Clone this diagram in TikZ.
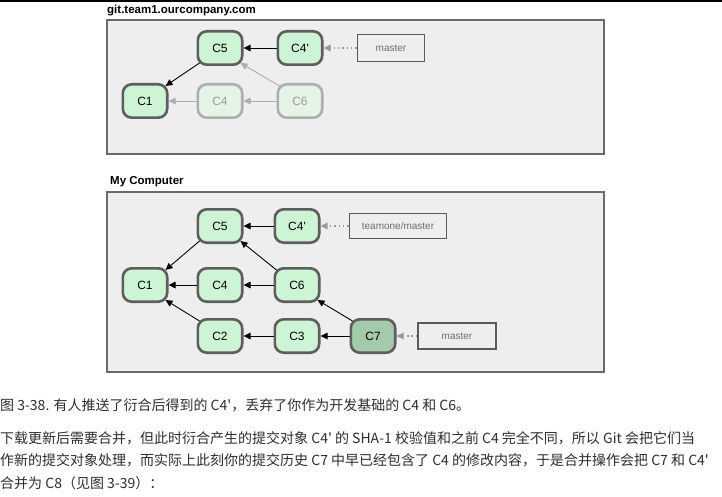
\documentclass[tikz,border=0pt]{standalone}
\usepackage{fontspec}
\setmainfont{Liberation Sans}
\newfontfamily\cjk{Noto Sans CJK SC}
\newfontfamily\lsans{Liberation Sans}
\usetikzlibrary{arrows.meta}
\definecolor{cfill}{HTML}{CDF5D5}
\definecolor{cborder}{HTML}{5E5E5E}
\definecolor{ffill}{HTML}{E5F4E6}
\definecolor{fborder}{HTML}{AEAEAE}
\definecolor{ftext}{HTML}{9C9C9C}
\definecolor{c7fill}{HTML}{A5C9AB}
\definecolor{panelbg}{HTML}{EEEEEE}
\definecolor{panelborder}{HTML}{6A6A6A}
\definecolor{refborder}{HTML}{5A5A5A}
\definecolor{reftext}{HTML}{6E6E6E}
\definecolor{dotcol}{HTML}{9A9A9A}
\definecolor{bodytext}{HTML}{2E2E2E}
\tikzset{
  commit/.style={draw=cborder, line width=2.6pt, fill=cfill, rounded corners=9pt,
    minimum width=44.4pt, minimum height=33.4pt, inner sep=0pt,
    font=\lsans\fontsize{12}{14}\selectfont, text=black},
  faded/.style={commit, draw=fborder, fill=ffill, text=ftext},
  tipcommit/.style={commit, fill=c7fill},
  refbox/.style={draw=refborder, line width=1.8pt, fill=panelbg, inner sep=0pt,
    font=\lsans\fontsize{10}{12}\selectfont, text=reftext},
  panel/.style={draw=panelborder, line width=1.4pt, fill=panelbg},
  title/.style={font=\lsans\bfseries\fontsize{11.5}{13}\selectfont, anchor=base west, inner sep=0pt},
  arr/.style={-{Triangle[length=7pt,width=6.5pt]}, line width=0.9pt, draw=black},
  farr/.style={arr, draw=fborder},
  dots/.style={-{Triangle[length=7pt,width=6.5pt]}, line width=1.1pt, draw=dotcol,
    dash pattern=on 1.5pt off 2.8pt},
  body/.style={font=\cjk\fontsize{14}{16}\selectfont, text=bodytext, anchor=base west, inner sep=0pt}
}
\begin{document}
\begin{tikzpicture}[x=1pt,y=-1pt]
\useasboundingbox (0,0) rectangle (722,497);
\fill[white] (0,0) rectangle (722,497);
\fill[black] (0,0) rectangle (722,1.6);

% ---------- top panel ----------
\node[title] (t1) at (107,13.5) {git.team1.ourcompany.com};
\path[panel] (107,20) rectangle (604,154);
\node[commit] (aC5) at (220,48) {C5};
\node[commit] (aC4p) at (300,48) {C4'};
\node[commit] (aC1) at (145,101) {C1};
\node[faded] (aC4) at (220,101) {C4};
\node[faded] (aC6) at (300,101) {C6};
\node[refbox, minimum width=67pt, minimum height=27pt] (amaster) at (391,48) {master};
\draw[arr] (aC4p) -- (aC5);
\draw[arr] ([xshift=3pt,yshift=3pt]aC5.south west) -- ([xshift=-3pt,yshift=-3pt]aC1.north east);
\draw[farr] ([xshift=3pt,yshift=-3pt]aC6.north west) -- ([xshift=-3pt,yshift=3pt]aC5.south east);
\draw[farr] (aC6) -- (aC4);
\draw[farr] (aC4) -- (aC1);
\draw[dots] (amaster) -- (aC4p);

% ---------- bottom panel ----------
\node[title] (t2) at (110,184.5) {My Computer};
\path[panel] (107,192) rectangle (604,372);
\node[commit] (bC5) at (220,226) {C5};
\node[commit] (bC4p) at (297,226) {C4'};
\node[commit] (bC1) at (145,285) {C1};
\node[commit] (bC4) at (220,285) {C4};
\node[commit] (bC6) at (297,285) {C6};
\node[commit] (bC2) at (220,336) {C2};
\node[commit] (bC3) at (297,336) {C3};
\node[tipcommit] (bC7) at (373,336) {C7};
\node[refbox, minimum width=97pt, minimum height=25pt] (btm) at (398,226) {teamone/master};
\node[refbox, minimum width=78pt, minimum height=26pt] (bmaster) at (457,336) {master};
\draw[arr] (bC4p) -- (bC5);
\draw[arr] ([xshift=3pt,yshift=3pt]bC5.south west) -- ([xshift=-3pt,yshift=-3pt]bC1.north east);
\draw[arr] (bC4) -- (bC1);
\draw[arr] (bC6) -- (bC4);
\draw[arr] ([xshift=3pt,yshift=-3pt]bC6.north west) -- ([xshift=-3pt,yshift=3pt]bC5.south east);
\draw[arr] ([xshift=3pt,yshift=-3pt]bC2.north west) -- ([xshift=-3pt,yshift=3pt]bC1.south east);
\draw[arr] (bC3) -- (bC2);
\draw[arr] (bC7) -- (bC3);
\draw[arr] ([xshift=3pt,yshift=-3pt]bC7.north west) -- ([xshift=-3pt,yshift=3pt]bC6.south east);
\draw[dots] (btm) -- (bC4p);
\draw[dots] (bmaster) -- (bC7);

% ---------- text below ----------
\node[body] (l1) at (0,410) {图 3-38. 有人推送了衍合后得到的 C4'，丢弃了你作为开发基础的 C4 和 C6。};
\node[body] (l2) at (0,443) {下载更新后需要合并，但此时衍合产生的提交对象 C4' 的 SHA-1 校验值和之前 C4 完全不同，所以 Git 会把它们当};
\node[body] (l3) at (0,465.5) {作新的提交对象处理，而实际上此刻你的提交历史 C7 中早已经包含了 C4 的修改内容，于是合并操作会把 C7 和 C4'};
\node[body] (l4) at (0,488) {合并为 C8（见图 3-39）：};
\end{tikzpicture}
\end{document}
